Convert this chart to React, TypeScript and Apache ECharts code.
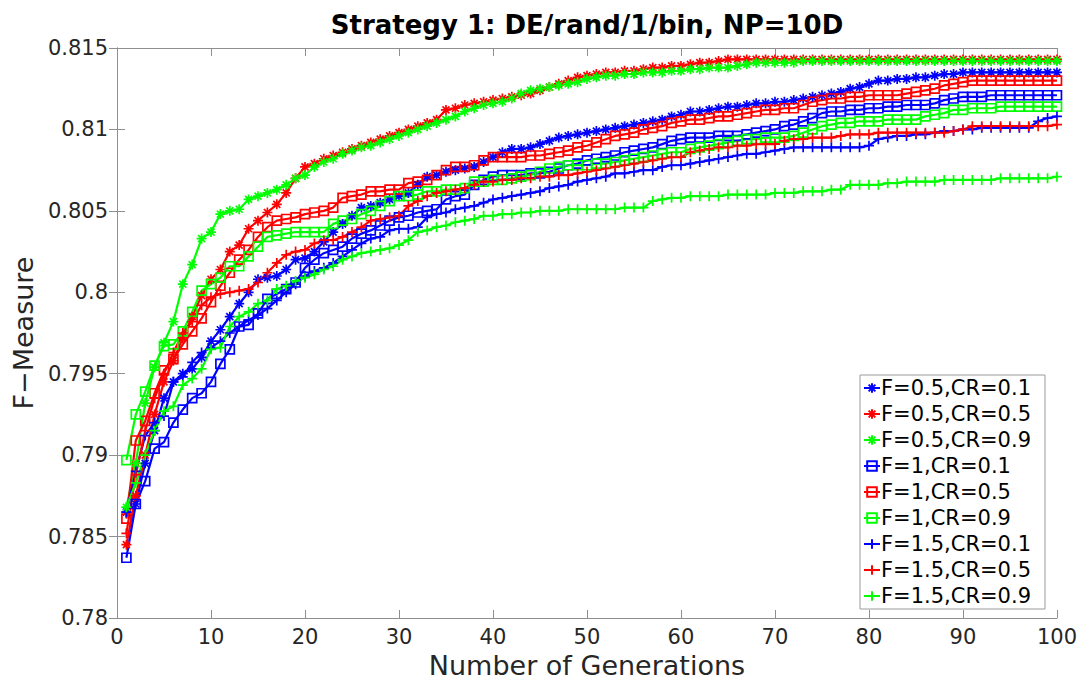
import React, { useEffect, useRef } from "react";
import * as echarts from "echarts";

const generations: number[] = Array.from({ length: 100 }, (_, i) => i + 1);

const seriesNames = [
  "F=0.5,CR=0.1",
  "F=0.5,CR=0.5",
  "F=0.5,CR=0.9",
  "F=1,CR=0.1",
  "F=1,CR=0.5",
  "F=1,CR=0.9",
  "F=1.5,CR=0.1",
  "F=1.5,CR=0.5",
  "F=1.5,CR=0.9",
];

const f05cr01 = [
  0.7865, 0.7870, 0.7895, 0.7915, 0.7935, 0.7945, 0.7950, 0.7953, 0.7960, 0.7970,
  0.7977, 0.7985, 0.7993, 0.8000, 0.8008, 0.8009, 0.8010, 0.8014, 0.8020, 0.8021,
  0.8025, 0.8031, 0.8037, 0.8042, 0.8047, 0.8052, 0.8053, 0.8055, 0.8057, 0.8059,
  0.8061, 0.8066, 0.8071, 0.8072, 0.8074, 0.8075, 0.8076, 0.8077, 0.8080, 0.8083,
  0.8086, 0.8088, 0.8088, 0.8089, 0.8091, 0.8093, 0.8095, 0.8096, 0.8097, 0.8098,
  0.8099, 0.8100, 0.8101, 0.8102, 0.8103, 0.8104, 0.8105, 0.8106, 0.8108, 0.8109,
  0.8111, 0.8111, 0.8112, 0.8113, 0.8114, 0.8114, 0.8115, 0.8116, 0.8116, 0.8117,
  0.8117, 0.8118, 0.8119, 0.8120, 0.8121, 0.8122, 0.8123, 0.8125, 0.8126, 0.8128,
  0.8130, 0.8130, 0.8131, 0.8131, 0.8132, 0.8132, 0.8133, 0.8134, 0.8134, 0.8135,
  0.8135, 0.8135, 0.8135, 0.8135, 0.8135, 0.8135, 0.8135, 0.8135, 0.8135, 0.8135,
];

const f05cr05 = [
  0.7845, 0.7875, 0.7900, 0.7925, 0.7945, 0.7958, 0.7972, 0.7985, 0.7998, 0.8008,
  0.8014, 0.8025, 0.8029, 0.8039, 0.8044, 0.8049, 0.8054, 0.8061, 0.8070, 0.8077,
  0.8079, 0.8082, 0.8084, 0.8086, 0.8088, 0.8090, 0.8092, 0.8094, 0.8096, 0.8098,
  0.8100, 0.8102, 0.8104, 0.8106, 0.8112, 0.8113, 0.8115, 0.8116, 0.8117, 0.8118,
  0.8119, 0.8120, 0.8121, 0.8122, 0.8124, 0.8126, 0.8128, 0.8130, 0.8132, 0.8133,
  0.8134, 0.8135, 0.8135, 0.8136, 0.8136, 0.8137, 0.8138, 0.8138, 0.8139, 0.8139,
  0.8140, 0.8141, 0.8141, 0.8142, 0.8143, 0.8143, 0.8143, 0.8143, 0.8143, 0.8143,
  0.8143, 0.8143, 0.8143, 0.8143, 0.8143, 0.8143, 0.8143, 0.8143, 0.8143, 0.8143,
  0.8143, 0.8143, 0.8143, 0.8143, 0.8143, 0.8143, 0.8143, 0.8143, 0.8143, 0.8143,
  0.8143, 0.8143, 0.8143, 0.8143, 0.8143, 0.8143, 0.8143, 0.8143, 0.8143, 0.8143,
];

const f05cr09 = [
  0.7868, 0.7895, 0.7932, 0.7954, 0.7969, 0.7982, 0.8005, 0.8017, 0.8033, 0.8037,
  0.8048, 0.8050, 0.8051, 0.8057, 0.8059, 0.8061, 0.8063, 0.8066, 0.8070, 0.8072,
  0.8077, 0.8080, 0.8082, 0.8085, 0.8087, 0.8089, 0.8090, 0.8092, 0.8094, 0.8096,
  0.8098, 0.8100, 0.8102, 0.8104, 0.8106, 0.8108, 0.8111, 0.8113, 0.8115, 0.8116,
  0.8117, 0.8119, 0.8122, 0.8124, 0.8125, 0.8126, 0.8127, 0.8128, 0.8129, 0.8131,
  0.8132, 0.8133, 0.8133, 0.8134, 0.8134, 0.8135, 0.8135, 0.8135, 0.8136, 0.8136,
  0.8137, 0.8137, 0.8138, 0.8138, 0.8138, 0.8139, 0.8140, 0.8141, 0.8141, 0.8141,
  0.8141, 0.8141, 0.8142, 0.8142, 0.8142, 0.8142, 0.8142, 0.8142, 0.8142, 0.8142,
  0.8142, 0.8142, 0.8142, 0.8142, 0.8142, 0.8142, 0.8142, 0.8142, 0.8142, 0.8142,
  0.8142, 0.8142, 0.8142, 0.8142, 0.8142, 0.8142, 0.8142, 0.8142, 0.8142, 0.8142,
];

const f1cr01 = [
  0.7837, 0.7870, 0.7884, 0.7904, 0.7908, 0.7920, 0.7928, 0.7935, 0.7938, 0.7945,
  0.7956, 0.7965, 0.7979, 0.7980, 0.7987, 0.7996, 0.7999, 0.8002, 0.8006, 0.8015,
  0.8020, 0.8024, 0.8026, 0.8028, 0.8033, 0.8036, 0.8038, 0.8041, 0.8044, 0.8046,
  0.8047, 0.8049, 0.8050, 0.8051, 0.8057, 0.8059, 0.8060, 0.8066, 0.8069, 0.8071,
  0.8072, 0.8072, 0.8072, 0.8073, 0.8073, 0.8074, 0.8076, 0.8078, 0.8079, 0.8081,
  0.8082, 0.8083, 0.8084, 0.8086, 0.8087, 0.8088, 0.8089, 0.8091, 0.8093, 0.8094,
  0.8095, 0.8095, 0.8095, 0.8096, 0.8096, 0.8096, 0.8097, 0.8098, 0.8099, 0.8100,
  0.8102, 0.8103, 0.8105, 0.8107, 0.8110, 0.8111, 0.8111, 0.8112, 0.8112, 0.8113,
  0.8113, 0.8114, 0.8114, 0.8115, 0.8115, 0.8115, 0.8116, 0.8118, 0.8119, 0.8120,
  0.8120, 0.8120, 0.8121, 0.8121, 0.8121, 0.8121, 0.8121, 0.8121, 0.8121, 0.8121,
];

const f1cr05 = [
  0.7861, 0.7909, 0.7921, 0.7938, 0.7952, 0.7959, 0.7968, 0.7976, 0.7984, 0.7994,
  0.8004, 0.8012, 0.8020, 0.8026, 0.8034, 0.8040, 0.8044, 0.8045, 0.8046, 0.8048,
  0.8049, 0.8050, 0.8052, 0.8058, 0.8059, 0.8060, 0.8062, 0.8062, 0.8063, 0.8063,
  0.8067, 0.8068, 0.8069, 0.8072, 0.8075, 0.8077, 0.8077, 0.8078, 0.8081, 0.8083,
  0.8083, 0.8083, 0.8083, 0.8084, 0.8084, 0.8085, 0.8086, 0.8087, 0.8089, 0.8090,
  0.8092, 0.8094, 0.8096, 0.8097, 0.8098, 0.8100, 0.8101, 0.8102, 0.8104, 0.8105,
  0.8106, 0.8106, 0.8107, 0.8108, 0.8108, 0.8109, 0.8110, 0.8111, 0.8112, 0.8112,
  0.8113, 0.8113, 0.8115, 0.8117, 0.8118, 0.8119, 0.8119, 0.8120, 0.8120, 0.8121,
  0.8121, 0.8121, 0.8121, 0.8122, 0.8123, 0.8124, 0.8125, 0.8127, 0.8128, 0.8129,
  0.8130, 0.8130, 0.8130, 0.8130, 0.8130, 0.8130, 0.8130, 0.8130, 0.8130, 0.8130,
];

const f1cr09 = [
  0.7897, 0.7925, 0.7939, 0.7955, 0.7967, 0.7968, 0.7976, 0.7988, 0.8001, 0.8005,
  0.8009, 0.8016, 0.8016, 0.8022, 0.8028, 0.8034, 0.8035, 0.8036, 0.8037, 0.8037,
  0.8037, 0.8037, 0.8042, 0.8044, 0.8045, 0.8048, 0.8050, 0.8053, 0.8056, 0.8059,
  0.8059, 0.8060, 0.8062, 0.8062, 0.8063, 0.8063, 0.8064, 0.8068, 0.8068, 0.8069,
  0.8069, 0.8070, 0.8071, 0.8072, 0.8074, 0.8076, 0.8077, 0.8078, 0.8078, 0.8078,
  0.8079, 0.8079, 0.8080, 0.8081, 0.8082, 0.8083, 0.8084, 0.8085, 0.8086, 0.8086,
  0.8088, 0.8089, 0.8090, 0.8091, 0.8092, 0.8093, 0.8094, 0.8094, 0.8095, 0.8095,
  0.8095, 0.8096, 0.8098, 0.8100, 0.8102, 0.8103, 0.8104, 0.8104, 0.8105, 0.8105,
  0.8105, 0.8106, 0.8106, 0.8106, 0.8106, 0.8108, 0.8109, 0.8110, 0.8112, 0.8112,
  0.8113, 0.8113, 0.8113, 0.8114, 0.8114, 0.8114, 0.8114, 0.8114, 0.8114, 0.8114,
];

const f15cr01 = [
  0.7865, 0.7890, 0.7912, 0.7920, 0.7924, 0.7945, 0.7948, 0.7957, 0.7963, 0.7966,
  0.7970, 0.7975, 0.7979, 0.7983, 0.7986, 0.7990, 0.7995, 0.8000, 0.8005, 0.8010,
  0.8013, 0.8015, 0.8018, 0.8022, 0.8026, 0.8030, 0.8033, 0.8034, 0.8038, 0.8039,
  0.8039, 0.8040, 0.8046, 0.8048, 0.8049, 0.8051, 0.8052, 0.8053, 0.8055, 0.8057,
  0.8058, 0.8059, 0.8060, 0.8061, 0.8062, 0.8064, 0.8065, 0.8066, 0.8068, 0.8069,
  0.8070, 0.8071, 0.8073, 0.8073, 0.8074, 0.8075, 0.8075, 0.8077, 0.8078, 0.8078,
  0.8079, 0.8080, 0.8081, 0.8082, 0.8083, 0.8084, 0.8085, 0.8085, 0.8086, 0.8087,
  0.8088, 0.8089, 0.8089, 0.8089, 0.8089, 0.8089, 0.8089, 0.8089, 0.8089, 0.8090,
  0.8094, 0.8095, 0.8096, 0.8096, 0.8097, 0.8097, 0.8098, 0.8099, 0.8099, 0.8100,
  0.8100, 0.8101, 0.8101, 0.8101, 0.8101, 0.8101, 0.8101, 0.8105, 0.8107, 0.8108,
];

const f15cr05 = [
  0.7852, 0.7888, 0.7915, 0.7935, 0.7950, 0.7963, 0.7975, 0.7982, 0.7992, 0.7997,
  0.7999, 0.8000, 0.8001, 0.8002, 0.8006, 0.8012, 0.8018, 0.8023, 0.8025, 0.8026,
  0.8030, 0.8032, 0.8032, 0.8034, 0.8037, 0.8040, 0.8044, 0.8045, 0.8046, 0.8047,
  0.8053, 0.8056, 0.8059, 0.8061, 0.8062, 0.8063, 0.8064, 0.8066, 0.8068, 0.8068,
  0.8069, 0.8069, 0.8070, 0.8070, 0.8071, 0.8071, 0.8072, 0.8072, 0.8073, 0.8074,
  0.8075, 0.8076, 0.8077, 0.8078, 0.8079, 0.8080, 0.8081, 0.8082, 0.8083, 0.8083,
  0.8086, 0.8087, 0.8088, 0.8089, 0.8089, 0.8090, 0.8090, 0.8091, 0.8091, 0.8091,
  0.8093, 0.8094, 0.8094, 0.8095, 0.8095, 0.8095, 0.8096, 0.8097, 0.8097, 0.8097,
  0.8098, 0.8098, 0.8098, 0.8098, 0.8098, 0.8098, 0.8098, 0.8098, 0.8099, 0.8100,
  0.8102, 0.8102, 0.8102, 0.8102, 0.8102, 0.8102, 0.8102, 0.8102, 0.8102, 0.8103,
];

const f15cr09 = [
  0.7868, 0.7883, 0.7900, 0.7915, 0.7927, 0.7930, 0.7943, 0.7947, 0.7953, 0.7965,
  0.7966, 0.7979, 0.7985, 0.7988, 0.7993, 0.7995, 0.8002, 0.8004, 0.8007, 0.8009,
  0.8011, 0.8014, 0.8016, 0.8020, 0.8022, 0.8024, 0.8025, 0.8026, 0.8027, 0.8029,
  0.8032, 0.8037, 0.8038, 0.8040, 0.8041, 0.8043, 0.8044, 0.8045, 0.8047, 0.8047,
  0.8048, 0.8048, 0.8049, 0.8049, 0.8050, 0.8050, 0.8050, 0.8051, 0.8051, 0.8051,
  0.8051, 0.8051, 0.8051, 0.8052, 0.8052, 0.8052, 0.8056, 0.8057, 0.8058, 0.8058,
  0.8059, 0.8059, 0.8059, 0.8059, 0.8060, 0.8060, 0.8060, 0.8060, 0.8060, 0.8061,
  0.8061, 0.8061, 0.8062, 0.8062, 0.8062, 0.8063, 0.8063, 0.8066, 0.8066, 0.8066,
  0.8066, 0.8067, 0.8067, 0.8068, 0.8068, 0.8068, 0.8068, 0.8069, 0.8069, 0.8069,
  0.8069, 0.8069, 0.8069, 0.8070, 0.8070, 0.8070, 0.8070, 0.8070, 0.8070, 0.8071,
];

const seriesValues = [
  f05cr01, f05cr05, f05cr09,
  f1cr01, f1cr05, f1cr09,
  f15cr01, f15cr05, f15cr09,
];

const seriesColors = [
  "#0000ff", "#ff0000", "#00ff00",
  "#0000ff", "#ff0000", "#00ff00",
  "#0000ff", "#ff0000", "#00ff00",
];

const STAR = "path://M5,0L5,10M0,5L10,5M1.5,1.5L8.5,8.5M8.5,1.5L1.5,8.5";
const SQUARE = "path://M0,0L10,0L10,10L0,10Z";
const PLUS = "path://M5,0L5,10M0,5L10,5";
const seriesMarkers = [STAR, STAR, STAR, SQUARE, SQUARE, SQUARE, PLUS, PLUS, PLUS];

const titleText = "Strategy 1: DE/rand/1/bin, NP=10D";
const xName = "Number of Generations";
const yName = "F\u2212Measure";

const FONT = "'DejaVu Sans', 'Lucida Grande', sans-serif";
const AXIS_COLOR = "#8f8f8f";
const TEXT_COLOR = "#262626";

export default function App() {
  const ref = useRef<HTMLDivElement>(null);

  useEffect(() => {
    document.body.style.margin = "0";
    if (!ref.current) return;
    const chart = echarts.init(ref.current, null, { renderer: "svg" });

    const fmtY = (v: number) => String(Number(v.toFixed(3)));

    const baseAxis = {
      axisLine: { show: true, lineStyle: { color: AXIS_COLOR, width: 1 } },
      axisTick: { show: true, inside: true, length: 8, lineStyle: { color: AXIS_COLOR, width: 1 } },
      splitLine: { show: false },
    };

    const series = seriesNames.map((name, i) => {
      const isSquare = seriesMarkers[i] === SQUARE;
      return {
        name,
        type: "line",
        xAxisIndex: 0,
        yAxisIndex: 0,
        data: generations.map((g, k) => [g, seriesValues[i][k]]),
        symbol: seriesMarkers[i],
        symbolSize: isSquare ? 9 : 10,
        showSymbol: true,
        showAllSymbol: true,
        lineStyle: { color: seriesColors[i], width: 2.2 },
        itemStyle: {
          color: isSquare ? "rgba(0,0,0,0)" : seriesColors[i],
          borderColor: seriesColors[i],
          borderWidth: 1.7,
        },
        emphasis: { disabled: true },
        silent: true,
      };
    });

    const option = {
      animation: false,
      backgroundColor: "#ffffff",
      textStyle: { fontFamily: FONT },
      grid: { left: 117, right: 22, top: 48, bottom: 64, containLabel: false },
      graphic: [
        {
          type: "text",
          x: 587,
          y: 25,
          style: {
            text: titleText,
            fontFamily: FONT,
            fontSize: 26,
            fontWeight: "bold",
            fill: "#000000",
            align: "center",
            verticalAlign: "middle",
          },
        },
      ],
      xAxis: [
        {
          type: "value",
          position: "bottom",
          min: 0,
          max: 100,
          interval: 10,
          ...baseAxis,
          axisLabel: { show: true, fontSize: 21, color: TEXT_COLOR, margin: 8, fontFamily: FONT },
          name: xName,
          nameLocation: "middle",
          nameGap: 34,
          nameTextStyle: { fontSize: 27, color: TEXT_COLOR, fontFamily: FONT },
        },
        {
          type: "value",
          position: "top",
          min: 0,
          max: 100,
          interval: 10,
          ...baseAxis,
          axisLabel: { show: false },
        },
      ],
      yAxis: [
        {
          type: "value",
          position: "left",
          min: 0.78,
          max: 0.815,
          interval: 0.005,
          ...baseAxis,
          axisLabel: { show: true, fontSize: 21, color: TEXT_COLOR, margin: 9, fontFamily: FONT, formatter: fmtY },
          name: yName,
          nameLocation: "middle",
          nameGap: 72,
          nameTextStyle: { fontSize: 27, color: TEXT_COLOR, fontFamily: FONT },
        },
        {
          type: "value",
          position: "right",
          min: 0.78,
          max: 0.815,
          interval: 0.005,
          ...baseAxis,
          axisLabel: { show: false },
        },
      ],
      legend: {
        show: true,
        orient: "vertical",
        left: 860,
        top: 375,
        padding: [2, 14, 2, 3],
        itemWidth: 16,
        itemHeight: 12,
        itemGap: 4,
        backgroundColor: "#ffffff",
        borderColor: "#9a9a9a",
        borderWidth: 1,
        borderRadius: 0,
        selectedMode: false,
        textStyle: { fontSize: 21, color: "#000000", fontFamily: FONT, lineHeight: 22, padding: [0, 0, 0, -4] },
        data: seriesNames,
      },
      series,
    };

    chart.setOption(option as any);
    return () => {
      chart.dispose();
    };
  }, []);

  return (
    <div
      ref={ref}
      style={{ position: "absolute", left: 0, top: 0, width: 1080, height: 684, background: "#fff" }}
    />
  );
}
